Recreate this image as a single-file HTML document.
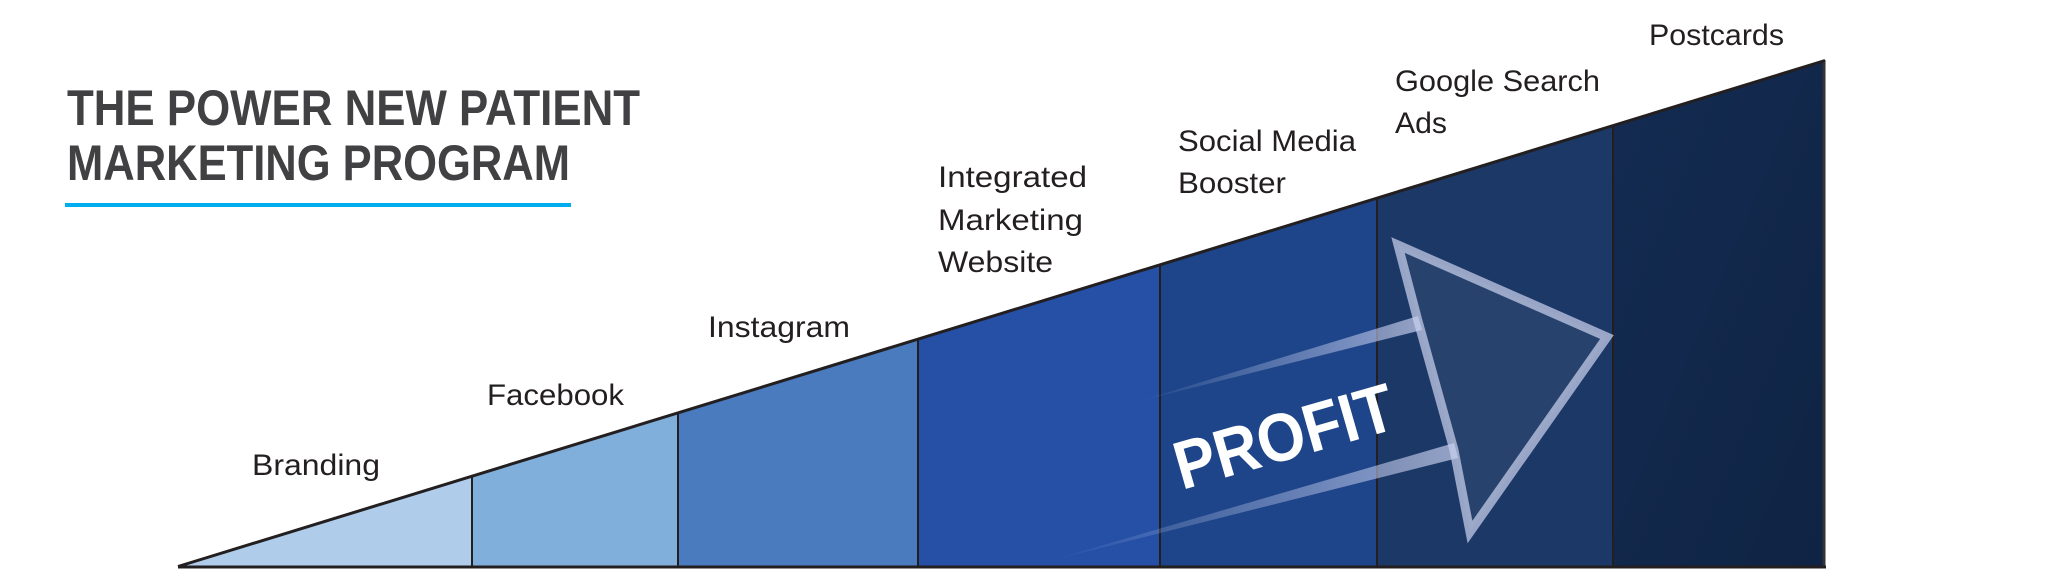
<!DOCTYPE html>
<html><head><meta charset="utf-8"><style>html,body{margin:0;padding:0;background:#fff}svg{display:block}</style></head>
<body>
<svg width="2048" height="583" viewBox="0 0 2048 583" xmlns="http://www.w3.org/2000/svg">
<defs>
<linearGradient id="tr1" x1="1" y1="0" x2="0" y2="0"><stop offset="0" stop-color="#c8d0f0" stop-opacity="0.7"/><stop offset="1" stop-color="#c8d0f0" stop-opacity="0"/></linearGradient>
<linearGradient id="g7" x1="0" y1="0" x2="1" y2="1"><stop offset="0" stop-color="#142b52"/><stop offset="1" stop-color="#0f2444"/></linearGradient>
</defs>
<polygon points="180,566 472,476.3 472,566" fill="#afcdeb"/>
<polygon points="472,476.3 678,413 678,566 472,566" fill="#80afdb"/>
<polygon points="678,413 918,339.3 918,566 678,566" fill="#4a7bbf"/>
<polygon points="918,339.3 1160,265 1160,566 918,566" fill="#2550a6"/>
<polygon points="1160,265 1377,198.3 1377,566 1160,566" fill="#1e4589"/>
<polygon points="1377,198.3 1613,125.8 1613,566 1377,566" fill="#1c3866"/>
<polygon points="1613,125.8 1824,61 1824,566 1613,566" fill="url(#g7)"/>
<g stroke="#231f20" stroke-width="2">
<line x1="472" y1="476" x2="472" y2="566"/>
<line x1="678" y1="413" x2="678" y2="566"/>
<line x1="918" y1="339" x2="918" y2="566"/>
<line x1="1160" y1="265" x2="1160" y2="566"/>
<line x1="1377" y1="198" x2="1377" y2="566"/>
<line x1="1613" y1="126" x2="1613" y2="566"/>
</g>
<line x1="1824" y1="60" x2="1824" y2="567" stroke="#333" stroke-width="3"/>
<line x1="178" y1="567" x2="1826" y2="567" stroke="#231f20" stroke-width="3"/>
<line x1="178" y1="566.5" x2="1825" y2="60.5" stroke="#231f20" stroke-width="3"/>
<!-- arrow -->
<polygon points="1418,321 1398,245 1607,337 1470,532 1454,450" fill="rgba(255,255,255,0.05)" stroke="rgba(205,212,240,0.7)" stroke-width="9" stroke-linejoin="miter"/>
<polygon points="1136,402 1418,316 1422,330" fill="url(#tr1)"/>
<polygon points="1045,562 1454,443 1458,458" fill="url(#tr1)"/>
<text x="1182" y="490" transform="rotate(-16 1182 490)" font-family="Liberation Sans, sans-serif" font-weight="bold" font-size="68" fill="#fff" textLength="226" lengthAdjust="spacingAndGlyphs">PROFIT</text>
<g font-family="Liberation Sans, sans-serif" font-weight="bold" font-size="50" fill="#414042">
<text x="67" y="125" textLength="573" lengthAdjust="spacingAndGlyphs">THE POWER NEW PATIENT</text>
<text x="67" y="180" textLength="503" lengthAdjust="spacingAndGlyphs">MARKETING PROGRAM</text>
</g>
<rect x="65" y="203" width="506" height="4" fill="#00aeef"/>
<g font-family="Liberation Sans, sans-serif" font-size="30" fill="#231f20">
<text x="252" y="475" textLength="128" lengthAdjust="spacingAndGlyphs">Branding</text>
<text x="487" y="405" textLength="137" lengthAdjust="spacingAndGlyphs">Facebook</text>
<text x="708" y="337" textLength="142" lengthAdjust="spacingAndGlyphs">Instagram</text>
<text x="938" y="187" textLength="149" lengthAdjust="spacingAndGlyphs">Integrated</text>
<text x="938" y="230" textLength="145" lengthAdjust="spacingAndGlyphs">Marketing</text>
<text x="938" y="272" textLength="115" lengthAdjust="spacingAndGlyphs">Website</text>
<text x="1178" y="151" textLength="178" lengthAdjust="spacingAndGlyphs">Social Media</text>
<text x="1178" y="193" textLength="108" lengthAdjust="spacingAndGlyphs">Booster</text>
<text x="1395" y="91" textLength="205" lengthAdjust="spacingAndGlyphs">Google Search</text>
<text x="1395" y="133" textLength="52" lengthAdjust="spacingAndGlyphs">Ads</text>
<text x="1649" y="45" textLength="135" lengthAdjust="spacingAndGlyphs">Postcards</text>
</g>
</svg>
</body></html>
